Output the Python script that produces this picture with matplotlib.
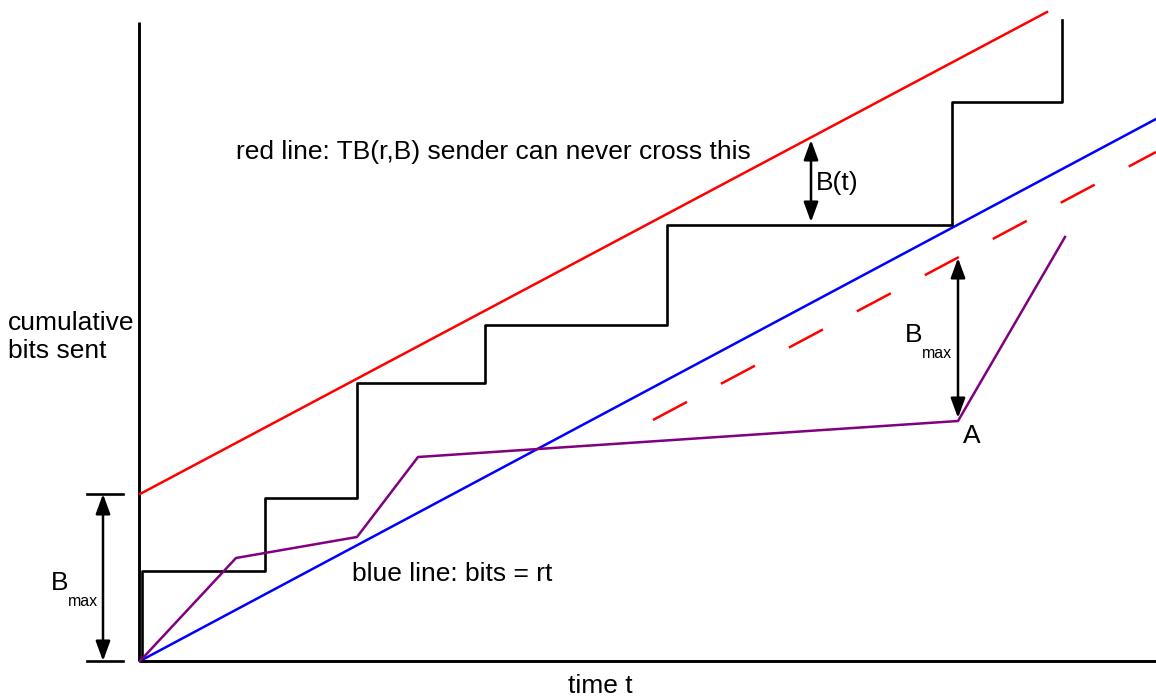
import matplotlib
matplotlib.use("Agg")
import matplotlib.pyplot as plt
import numpy as np

plt.rcParams['font.family'] = ['Liberation Sans', 'DejaVu Sans']

# Data (time units, bits units)
red_t = [0, 907]
red_b = [167, 649]
blue_t = [0, 1016]
blue_b = [0, 542]
dash_t = [513, 1016]
dash_b = [241, 509]
step_times = [2, 125, 217, 345, 527, 812, 922]
step_levels = [90, 163, 278, 336, 436, 559, 641]
purple_t = [0, 96, 217, 278, 818, 925]
purple_b = [0, 103, 124, 204, 240, 424]
bmax = 167
btarrow_t = 671
btarrow_b = [521, 439]
bmax2_t = 818
bmax2_b = [403, 243]

fig = plt.figure(figsize=(11.56, 6.98), dpi=100)
ax = fig.add_axes([0, 0, 1, 1])
ax.set_xlim(-140, 1016)
ax.set_ylim(-37, 661)
ax.axis('off')

lw = 1.8
# axes lines
ax.plot([-1, -1], [0, 639], color='black', lw=2.1, solid_capstyle='butt')
ax.plot([-1, 1016], [0, 0], color='black', lw=2.1, solid_capstyle='butt')

ax.plot(red_t, red_b, color='#ff0000', lw=lw)
ax.plot(blue_t, blue_b, color='#0000ff', lw=lw)
ax.plot(dash_t, dash_b, color='#ff0000', lw=lw, dashes=(15.4, 15.4), dash_capstyle='butt')

# staircase
st_t = [step_times[0]]
st_b = [0]
for i, (t, lv) in enumerate(zip(step_times, step_levels)):
    st_t.append(t); st_b.append(lv)
    if i + 1 < len(step_times):
        st_t.append(step_times[i + 1]); st_b.append(lv)
ax.plot(st_t, st_b, color='black', lw=1.9)

ax.plot(purple_t, purple_b, color='#800080', lw=lw)

arrowprops = dict(arrowstyle='<|-|>,head_length=0.6,head_width=0.22', color='black', lw=1.8,
                  mutation_scale=20, shrinkA=0, shrinkB=0)
# left Bmax
ax.plot([-53, -17], [bmax, bmax], color='black', lw=1.9)
ax.plot([-53, -17], [0, 0], color='black', lw=1.9)
ax.annotate('', xy=(-37, 0), xytext=(-37, bmax), arrowprops=arrowprops)
ax.annotate('', xy=(btarrow_t, btarrow_b[1]), xytext=(btarrow_t, btarrow_b[0]), arrowprops=arrowprops)
ax.annotate('', xy=(bmax2_t, bmax2_b[1]), xytext=(bmax2_t, bmax2_b[0]), arrowprops=arrowprops)

fs = 19
ax.text(-89, 78, 'B', fontsize=fs, ha='left', va='center')
ax.text(-72, 59, 'max', fontsize=11.5, ha='left', va='center')
ax.text(765, 326, 'B', fontsize=fs, ha='left', va='center')
ax.text(782, 308, 'max', fontsize=11.5, ha='left', va='center')
ax.text(676, 478, 'B(t)', fontsize=fs, ha='left', va='center')
ax.text(832, 225, 'A', fontsize=fs, ha='center', va='center')
ax.text(96, 509, 'red line: TB(r,B) sender can never cross this', fontsize=fs, ha='left', va='center')
ax.text(212, 87, 'blue line: bits = rt', fontsize=fs, ha='left', va='center')
ax.text(-132, 324, 'cumulative\nbits sent', fontsize=fs, ha='left', va='center', linespacing=1.25)
ax.text(460, -25, 'time t', fontsize=fs, ha='center', va='center')

fig.savefig('out.png', dpi=100)
